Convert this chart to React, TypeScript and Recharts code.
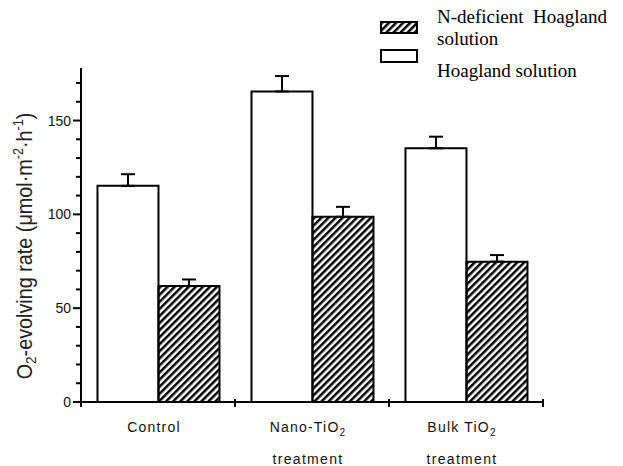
import React from 'react';
import { BarChart, Bar, XAxis, YAxis, ErrorBar, Legend } from 'recharts';

const categories = ['Control', 'Nano-TiO2', 'Bulk TiO2'];
const hoagland = [115.2, 165.5, 135.2];
const hoaglandErr = [6.2, 8.2, 6.2];
const nDeficient = [61.8, 98.7, 74.8];
const nDeficientErr = [3.5, 5.3, 3.5];
const yTicks = [0, 10, 20, 30, 40, 50, 60, 70, 80, 90, 100, 110, 120, 130, 140, 150, 160, 170];
const yLabeled = [0, 50, 100, 150];
const legendLabels = ['N-deficient  Hoagland', 'solution', 'Hoagland solution'];

const data = categories.map((c, i) => ({
  name: c,
  hoagland: hoagland[i],
  hoaglandErr: [0, hoaglandErr[i]],
  nDeficient: nDeficient[i],
  nDeficientErr: [0, nDeficientErr[i]],
}));

const SANS = 'Arial, "Liberation Sans", Helvetica, sans-serif';
const SERIF = '"Times New Roman", "Liberation Serif", serif';

const YTick = (props: any) => {
  const { x, y, payload } = props;
  const major = yLabeled.includes(payload.value);
  return (
    <g>
      <line x1={x - (major ? 8 : 5)} x2={x} y1={y} y2={y} stroke="#000" strokeWidth={2} />
      {major && (
        <text x={x - 10} y={y + 5} textAnchor="end" fontFamily={SANS} fontSize={14} fill="#111">
          {payload.value}
        </text>
      )}
    </g>
  );
};

const XTick = (props: any) => {
  const { x, y, payload, index, visibleTicksCount } = props;
  const half = payload.offset || 77;
  const v: string = payload.value;
  const isTi = v.endsWith('TiO2');
  const cx = x - 4;
  return (
    <g>
      <line x1={x - half} x2={x - half} y1={y - 3} y2={y + 5} stroke="#000" strokeWidth={2} />
      {index === visibleTicksCount - 1 && (
        <line x1={x + half} x2={x + half} y1={y - 3} y2={y + 5} stroke="#000" strokeWidth={2} />
      )}
      <text x={cx} y={y + 30} textAnchor="middle" fontFamily={SANS} fontSize={14} letterSpacing={1.2} fill="#111">
        {isTi ? (
          <>
            {v.slice(0, -1)}
            <tspan fontSize={10} dy={4}>2</tspan>
          </>
        ) : (
          v
        )}
      </text>
      {isTi && (
        <text x={cx} y={y + 62} textAnchor="middle" fontFamily={SANS} fontSize={14} letterSpacing={1.3} fill="#111">
          treatment
        </text>
      )}
    </g>
  );
};

const YLabel = (props: any) => {
  const vb = props.viewBox || { x: 0, y: 68, width: 81, height: 334 };
  const bx = vb.x + 32;
  const cy = vb.y + vb.height / 2 + 11;
  return (
    <text
      transform={`translate(${bx},${cy}) rotate(-90) scale(0.9,1)`}
      x={0}
      y={0}
      textAnchor="middle"
      fontFamily={SANS}
      fontSize={22}
      fill="#222"
    >
      O<tspan fontSize={15} dy={4}>2</tspan>
      <tspan dy={-4}>-evolving rate (μmol·m</tspan>
      <tspan fontSize={14} dy={-9}>-2</tspan>
      <tspan dy={9}>·h</tspan>
      <tspan fontSize={14} dy={-9}>-1</tspan>
      <tspan dy={9}>)</tspan>
    </text>
  );
};

const LegendContent = () => (
  <svg width={623} height={90} style={{ display: 'block' }}>
    <defs>
      <pattern id="hatchLegend" patternUnits="userSpaceOnUse" width={5} height={5} patternTransform="rotate(45)">
        <rect x={0} y={0} width={2.5} height={5} fill="#000" />
      </pattern>
    </defs>
    <rect x={381} y={22} width={36} height={11} fill="url(#hatchLegend)" stroke="#000" strokeWidth={2} />
    <rect x={381} y={50} width={36} height={12} fill="#fff" stroke="#000" strokeWidth={2} />
    <text x={437} y={23} fontFamily={SERIF} fontSize={19} fill="#000" style={{ whiteSpace: 'pre' }}>
      {legendLabels[0]}
    </text>
    <text x={437} y={45} fontFamily={SERIF} fontSize={19} fill="#000">
      {legendLabels[1]}
    </text>
    <text x={437} y={77} fontFamily={SERIF} fontSize={19} fill="#000">
      {legendLabels[2]}
    </text>
  </svg>
);

export default function App() {
  return (
    <div style={{ position: 'absolute', left: 0, top: 0, width: 623, height: 466, background: '#fff' }}>
      <BarChart
        width={623}
        height={466}
        data={data}
        margin={{ top: 68, right: 80, bottom: 0, left: 0 }}
        barCategoryGap="10.7%"
        barGap={0}
      >
        <defs>
          <pattern id="hatch" patternUnits="userSpaceOnUse" width={5} height={5} patternTransform="rotate(45)">
            <rect x={0} y={0} width={2.5} height={5} fill="#000" />
          </pattern>
        </defs>
        <XAxis
          dataKey="name"
          height={64}
          axisLine={{ stroke: '#000', strokeWidth: 2 }}
          tickLine={false}
          tickSize={0}
          tickMargin={0}
          interval={0}
          tick={<XTick />}
        />
        <YAxis
          type="number"
          domain={[0, 178]}
          ticks={yTicks}
          interval={0}
          width={81}
          axisLine={{ stroke: '#000', strokeWidth: 2 }}
          tickLine={false}
          tickSize={0}
          tickMargin={0}
          tick={<YTick />}
          label={<YLabel />}
        />
        <Legend
          layout="horizontal"
          verticalAlign="middle"
          align="center"
          content={<LegendContent />}
          wrapperStyle={{ top: 0, left: 0, width: 623, height: 90 }}
        />
        <Bar dataKey="hoagland" name="Hoagland solution" fill="#fff" stroke="#000" strokeWidth={2} isAnimationActive={false}>
          <ErrorBar dataKey="hoaglandErr" direction="y" width={7} stroke="#000" strokeWidth={2} isAnimationActive={false} />
        </Bar>
        <Bar dataKey="nDeficient" name="N-deficient Hoagland solution" fill="url(#hatch)" stroke="#000" strokeWidth={2} isAnimationActive={false}>
          <ErrorBar dataKey="nDeficientErr" direction="y" width={7} stroke="#000" strokeWidth={2} isAnimationActive={false} />
        </Bar>
      </BarChart>
    </div>
  );
}
